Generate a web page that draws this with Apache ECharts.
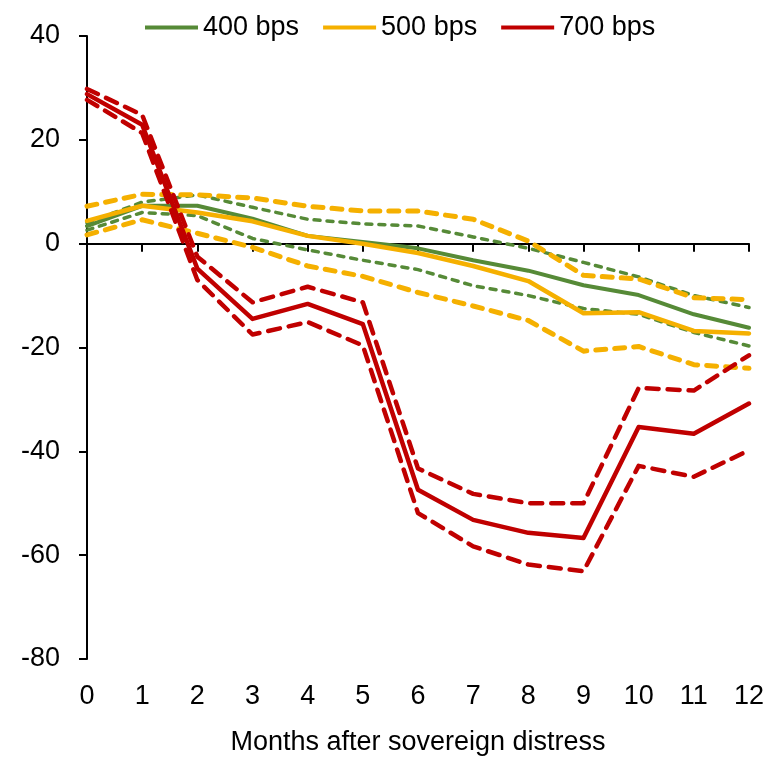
<!DOCTYPE html>
<html>
<head>
<meta charset="utf-8">
<script src="https://cdn.jsdelivr.net/npm/echarts@6/dist/echarts.min.js"></script>
<style>
  html, body { margin: 0; padding: 0; background: #fff; }
  #chart { width: 767px; height: 761px; }
</style>
</head>
<body>
<div id="chart"></div>
<script>
// Months after the distress event
const months = [0, 1, 2, 3, 4, 5, 6, 7, 8, 9, 10, 11, 12];

// 400 bps threshold: point estimate and confidence band
const bps400 = [3.4, 7.3, 7.3, 4.8, 1.5, 0.3, -0.9, -3.2, -5.2, -8.0, -9.9, -13.6, -16.2];
const bps400Upper = [4.0, 8.0, 9.4, 7.0, 4.7, 3.8, 3.4, 1.3, -0.9, -3.6, -6.4, -10.0, -12.3];
const bps400Lower = [2.6, 6.0, 5.4, 1.0, -1.2, -3.2, -5.0, -8.1, -10.0, -12.5, -13.6, -17.1, -19.7];

// 500 bps threshold
const bps500 = [4.4, 7.3, 6.0, 4.3, 1.5, 0.0, -1.8, -4.3, -7.2, -13.4, -13.2, -16.8, -17.3];
const bps500Upper = [7.2, 9.5, 9.4, 8.8, 7.2, 6.3, 6.3, 4.7, 0.5, -6.1, -6.8, -10.4, -10.8];
const bps500Lower = [1.7, 4.6, 2.0, -0.7, -4.3, -6.3, -9.4, -12.0, -14.8, -20.7, -19.8, -23.3, -24.0];

// 700 bps threshold
const bps700 = [28.8, 22.9, -4.8, -14.5, -11.6, -15.5, -47.4, -53.2, -55.7, -56.7, -35.3, -36.6, -30.8];
const bps700Upper = [29.8, 24.8, -2.5, -11.3, -8.3, -11.3, -43.3, -48.2, -50.0, -50.0, -27.8, -28.3, -21.5];
const bps700Lower = [27.7, 21.3, -7.0, -17.5, -15.1, -19.6, -51.9, -58.3, -61.8, -63.1, -42.8, -44.9, -39.8];

const yTicks = { min: -80, max: 40, step: 20 };
const legendNames = ['400 bps', '500 bps', '700 bps'];

const GREEN = '#568A37';
const YELLOW = '#F5B000';
const RED = '#C00000';
const FONT = '"Liberation Sans", Arial, sans-serif';
const FS = 27;

const pairs = vals => vals.map((v, i) => [months[i], v]);

function solid(name, vals, color, width, z) {
  return {
    name, type: 'line', data: pairs(vals), showSymbol: false, symbol: 'none',
    z, lineStyle: { color, width, cap: 'round', join: 'round' },
    itemStyle: { color }, silent: true
  };
}
function dashed(name, vals, color, width, dash, z) {
  return {
    name, type: 'line', data: pairs(vals), showSymbol: false, symbol: 'none',
    z, lineStyle: { color, width, type: dash, cap: 'round', join: 'round' },
    itemStyle: { color }, silent: true
  };
}

const chart = echarts.init(document.getElementById('chart'), null, { renderer: 'canvas' });

chart.setOption({
  animation: false,
  backgroundColor: '#ffffff',
  textStyle: { fontFamily: FONT, color: '#000' },
  legend: {
    data: legendNames,
    left: 140,
    top: 9,
    icon: 'rect',
    itemWidth: 53,
    itemHeight: 4,
    itemGap: 24,
    textStyle: { fontSize: FS, color: '#000', fontFamily: FONT }
  },
  grid: { left: 87, right: 17, top: 36, bottom: 99, containLabel: false },
  xAxis: [
    {
      type: 'value', min: 0, max: 12, interval: 1,
      axisLine: { onZero: true, lineStyle: { color: '#000', width: 2 } },
      axisTick: { show: true, inside: false, length: 8, lineStyle: { color: '#000', width: 2 } },
      axisLabel: { show: false },
      splitLine: { show: false }
    },
    {
      type: 'value', min: 0, max: 12, interval: 1, position: 'bottom',
      axisLine: { show: false, onZero: false },
      axisTick: { show: false },
      splitLine: { show: false },
      axisLabel: { fontSize: FS, color: '#000', fontFamily: FONT, margin: 24 },
      name: 'Months after sovereign distress',
      nameLocation: 'middle',
      nameGap: 70,
      nameTextStyle: { fontSize: FS, color: '#000', fontFamily: FONT }
    }
  ],
  yAxis: {
    type: 'value', min: yTicks.min, max: yTicks.max, interval: yTicks.step,
    axisLine: { show: true, onZero: false, lineStyle: { color: '#000', width: 2 } },
    axisTick: { show: true, inside: false, length: 8, lineStyle: { color: '#000', width: 2 } },
    axisLabel: { fontSize: FS, color: '#000', fontFamily: FONT, margin: 27 },
    splitLine: { show: false }
  },
  series: [
    dashed('400 bps upper', bps400Upper, GREEN, 3.5, [6, 7], 2),
    dashed('400 bps lower', bps400Lower, GREEN, 3.5, [6, 7], 2),
    solid('400 bps', bps400, GREEN, 4, 3),
    dashed('500 bps upper', bps500Upper, YELLOW, 5, [10, 9], 4),
    dashed('500 bps lower', bps500Lower, YELLOW, 5, [10, 9], 4),
    solid('500 bps', bps500, YELLOW, 4.5, 5),
    dashed('700 bps upper', bps700Upper, RED, 4.5, [12, 9], 6),
    dashed('700 bps lower', bps700Lower, RED, 4.5, [12, 9], 6),
    solid('700 bps', bps700, RED, 4.5, 7)
  ]
});
</script>
</body>
</html>
